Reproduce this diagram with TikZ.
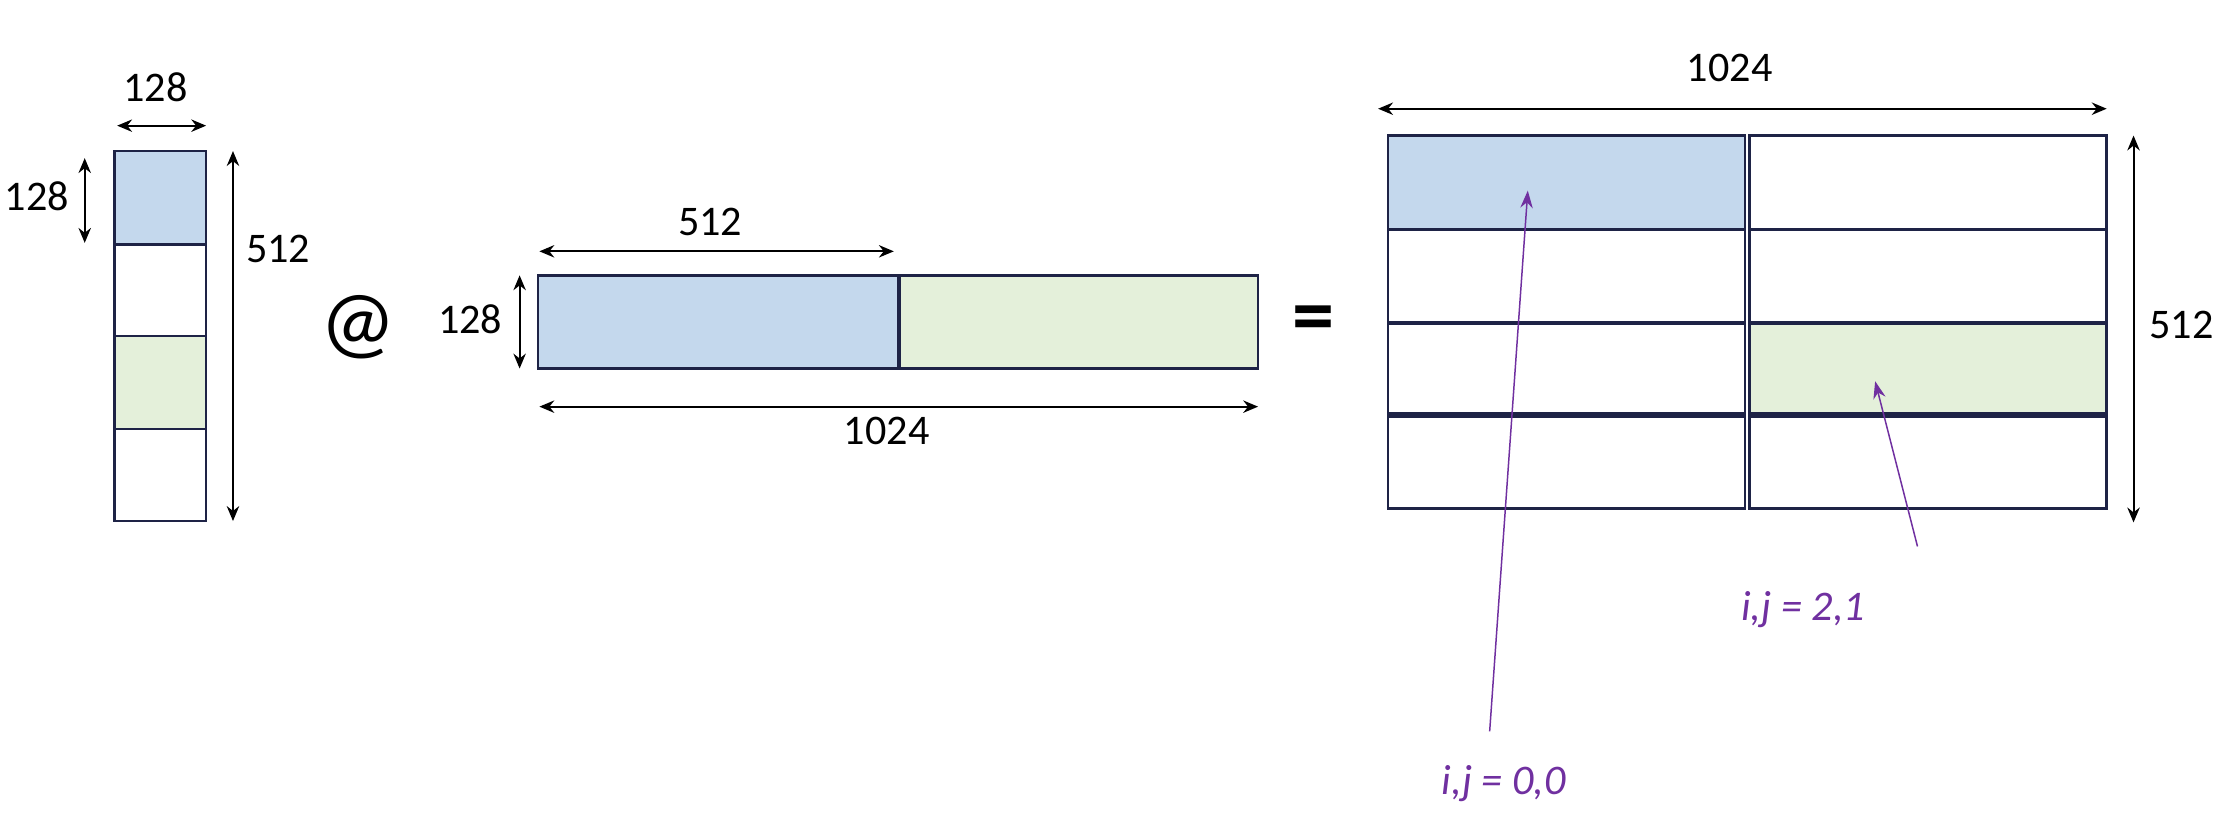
\documentclass[tikz,border=0pt]{standalone}
\usepackage{fontspec}
\setmainfont{Carlito}
\usetikzlibrary{arrows.meta}
\definecolor{bl}{RGB}{196,216,237}
\definecolor{gr}{RGB}{228,240,218}
\definecolor{edge}{RGB}{30,35,70}
\definecolor{pur}{RGB}{112,48,160}
\tikzset{cell/.style={draw=edge,line width=1pt},
dim/.style={{Stealth[length=6pt,width=5pt]}-{Stealth[length=6pt,width=5pt]},line width=0.8pt},
lbl/.style={font=\fontsize{17}{20}\selectfont},
plbl/.style={font=\fontsize{17}{20}\selectfont\itshape,text=pur},
parr/.style={-{Stealth[length=7pt,width=5pt]},draw=pur,line width=0.6pt}}
\begin{document}
\begin{tikzpicture}[x=0.02cm,y=-0.02cm]
\useasboundingbox (0,0) rectangle (1568,584);
% left column
\draw[cell,fill=bl] (81,107) rectangle (146,173);
\draw[cell] (81,173) rectangle (146,238);
\draw[cell,fill=gr] (81,238) rectangle (146,304);
\draw[cell] (81,304) rectangle (146,369);
\coordinate (a1) at (83,89); \coordinate (a2) at (146,89);
\draw[dim] (a1) -- (a2);
\node[lbl] (t1) at (110,62) {128};
\coordinate (b1) at (60,112); \coordinate (b2) at (60,172);
\draw[dim] (b1) -- (b2);
\node[lbl] (t2) at (26,139) {128};
\coordinate (c1) at (165,107); \coordinate (c2) at (165,369);
\draw[dim] (c1) -- (c2);
\node[lbl] (t3) at (197,176) {512};
\node[font=\fontsize{34}{36}\selectfont] (at) at (254,232) {@};
% middle
\draw[cell,fill=bl] (381,195) rectangle (636,261);
\draw[cell,fill=gr] (637,195) rectangle (891,261);
\coordinate (d1) at (382,178); \coordinate (d2) at (633,178);
\draw[dim] (d1) -- (d2);
\node[lbl] (t4) at (503,157) {512};
\coordinate (e1) at (368,195); \coordinate (e2) at (368,261);
\draw[dim] (e1) -- (e2);
\node[lbl] (t5) at (333,226) {128};
\coordinate (f1) at (382,288); \coordinate (f2) at (891,288);
\draw[dim] (f1) -- (f2);
\node[lbl] (t6) at (628,305) {1024};
\node[font=\fontsize{34}{36}\selectfont\bfseries] (eq) at (930,230) {=};
% right grid
\draw[cell,fill=bl] (983,96) rectangle (1236,162);
\draw[cell] (1239,96) rectangle (1492,162);
\draw[cell] (983,163) rectangle (1236,228);
\draw[cell] (1239,163) rectangle (1492,228);
\draw[cell] (983,229) rectangle (1236,293);
\draw[cell,fill=gr] (1239,229) rectangle (1492,293);
\draw[cell] (983,295) rectangle (1236,360);
\draw[cell] (1239,295) rectangle (1492,360);
\coordinate (g1) at (976,77); \coordinate (g2) at (1492,77);
\draw[dim] (g1) -- (g2);
\node[lbl] (t7) at (1225,48) {1024};
\coordinate (h1) at (1511,96); \coordinate (h2) at (1511,370);
\draw[dim] (h1) -- (h2);
\node[lbl] (t8) at (1545,230) {512};
% purple
\coordinate (p1) at (1055,518); \coordinate (p2) at (1082,135);
\draw[parr] (p1) -- (p2);
\coordinate (q1) at (1358,387); \coordinate (q2) at (1328,270);
\draw[parr] (q1) -- (q2);
\node[plbl] (l1) at (1277,432) {i,j = 2,1};
\node[plbl] (l2) at (1065,555) {i,j = 0,0};
\end{tikzpicture}
\end{document}
